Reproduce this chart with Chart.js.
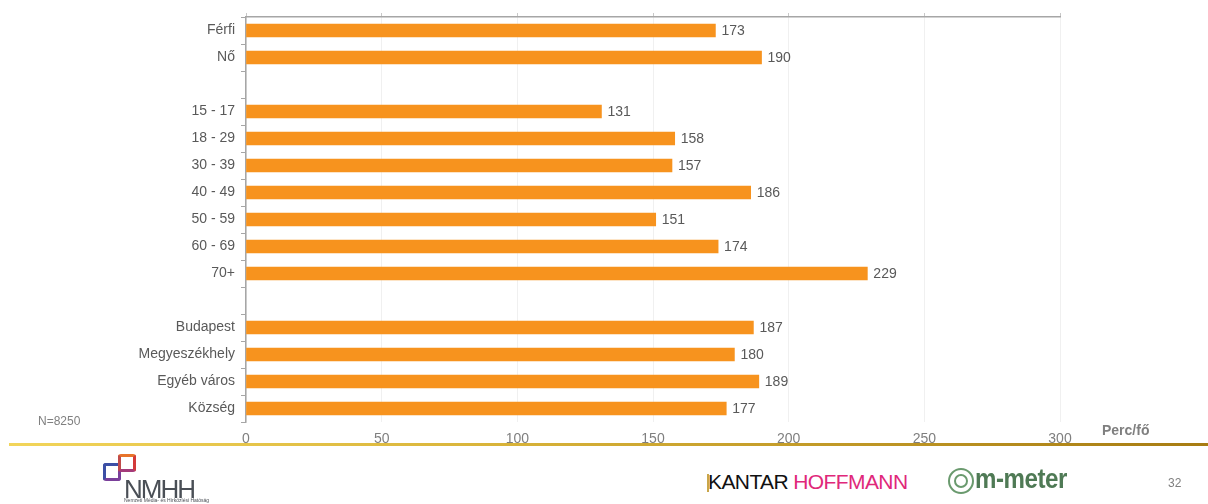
<!DOCTYPE html>
<html>
<head>
<meta charset="utf-8">
<script src="https://cdn.jsdelivr.net/npm/chart.js@4"></script>
<style>
  body { margin: 0; width: 1208px; height: 504px; background: #fff; position: relative; overflow: hidden; font-family: "Liberation Sans", Arial, sans-serif; }
  #wrap { position: absolute; left: 0; top: 0; width: 1208px; height: 451px; }
  .txt { position: absolute; white-space: nowrap; }
  #goldLine { position: absolute; left: 9px; top: 443px; width: 1199px; height: 3px; background: linear-gradient(to right, #f2d55a, #d9b43a 40%, #a77c12); }
  .sq { position: absolute; border-radius: 3px; }
</style>
</head>
<body>
<div id="wrap"><canvas id="g1Barras"></canvas></div>
<div id="goldLine"></div>
<div class="txt" style="left:38px; top:414px; font-size:12px; color:#7f7f7f;">N=8250</div>
<div class="txt" style="left:1102px; top:422px; font-size:14px; font-weight:bold; color:#7f7f7f;">Perc/fő</div>

<!-- logo NMHH -->
<div class="sq" style="left:103px; top:463px; width:12px; height:12px; border:3px solid #5a3f9a; border-color:#3c4fa5 #7a3f9a #7a3f9a #3c4fa5;"></div>
<div class="sq" style="left:118px; top:454px; width:12px; height:12px; border:3px solid #c0392b; border-color:#e8742a #d33a3a #a43b7a #c04a4a;"></div>
<div class="txt" style="left:124px; top:474px; font-size:26px; color:#4a4f56; letter-spacing:-2px;">NMHH</div>
<div class="txt" style="left:124px; top:497px; font-size:5px; color:#4a4f56;">Nemzeti Média- és Hírközlési Hatóság</div>

<!-- logo Kantar Hoffmann -->
<div class="txt" style="left:707px; top:474px; width:2px; height:18px; background:#c9a64a;"></div>
<div class="txt" style="left:708px; top:470px; font-size:21px; letter-spacing:-0.6px;"><span style="color:#111;">KANTAR</span><span style="color:#e0287a;"> HOFFMANN</span></div>

<!-- logo m-meter -->
<div class="txt" style="left:948px; top:468px; width:22px; height:22px; border:2px solid #6a9a6e; border-radius:50%;"></div>
<div class="txt" style="left:954px; top:474px; width:10px; height:10px; border:2px solid #6a9a6e; border-radius:50%;"></div>
<div class="txt" style="left:975px; top:463px; font-size:28px; font-weight:bold; color:#4f7a55; transform:scaleX(0.86); transform-origin:left center; letter-spacing:-0.5px;">m-meter</div>

<div class="txt" style="left:1168px; top:476px; font-size:12px; color:#7f7f7f;">32</div>

<script>
// Sávdiagram - napi tévénézési idő (perc/fő)

const categories = ['Férfi', 'Nő', '', '15 - 17', '18 - 29', '30 - 39', '40 - 49', '50 - 59', '60 - 69', '70+', '', 'Budapest', 'Megyeszékhely', 'Egyéb város', 'Község'];
const valores = [173, 190, null, 131, 158, 157, 186, 151, 174, 229, null, 187, 180, 189, 177];
const xTicks = [0, 50, 100, 150, 200, 250, 300];

const dataBarras = {
  labels: categories,
  datasets: [
    {
      label: 'Perc/fő',
      data: valores,
      backgroundColor: '#F7931E',
      barThickness: 13
    }
  ]
};

// rótulos de valor no fim das barras
const valueLabels = {
  id: 'valueLabels',
  afterDatasetsDraw(chart) {
    const ctx = chart.ctx;
    const meta = chart.getDatasetMeta(0);
    ctx.save();
    ctx.font = '14px "Liberation Sans", Arial, sans-serif';
    ctx.fillStyle = '#595959';
    ctx.textBaseline = 'middle';
    meta.data.forEach((bar, i) => {
      if (valores[i] == null) return;
      ctx.fillText(String(valores[i]), bar.x + 6, bar.y + 1);
    });
    ctx.restore();
  }
};

const optionsBarras = {
  indexAxis: 'y',
  responsive: true,
  maintainAspectRatio: false,
  animation: false,
  layout: { padding: { left: 0, right: 148, top: 0, bottom: 0 } },
  scales: {
    x: {
      position: 'bottom',
      min: 0,
      max: 300,
      afterBuildTicks: (scale) => { scale.ticks = xTicks.map(v => ({ value: v })); },
      afterFit: (scale) => { scale.height = 29; },
      border: { display: false },
      grid: { color: '#f0f0f0', drawTicks: false },
      ticks: { color: '#7f7f7f', padding: 9, font: { size: 14, family: '"Liberation Sans", Arial, sans-serif' } }
    },
    x2: {
      type: 'linear',
      axis: 'x',
      position: 'top',
      min: 0,
      max: 300,
      afterBuildTicks: (scale) => { scale.ticks = xTicks.map(v => ({ value: v })); },
      afterFit: (scale) => { scale.height = 17; },
      border: { display: true, color: '#a6a6a6', width: 1.5 },
      grid: { drawOnChartArea: false, drawTicks: true, tickLength: 4, color: '#c8c8c8' },
      ticks: { display: false }
    },
    y: {
      afterFit: (scale) => { scale.width = 246; },
      border: { display: true, color: '#a6a6a6', width: 1.5 },
      grid: { drawOnChartArea: false, drawTicks: true, tickLength: 5, color: '#a6a6a6', offset: true },
      ticks: { color: '#595959', padding: 6, autoSkip: false, font: { size: 14, family: '"Liberation Sans", Arial, sans-serif' } }
    }
  },
  plugins: {
    legend: { display: false },
    tooltip: { enabled: false }
  }
};

const ctxBarras = document.getElementById('g1Barras').getContext('2d');
const myChartBarras = new Chart(ctxBarras, {
  type: 'bar',
  data: dataBarras,
  options: optionsBarras,
  plugins: [valueLabels]
});
</script>
</body>
</html>
